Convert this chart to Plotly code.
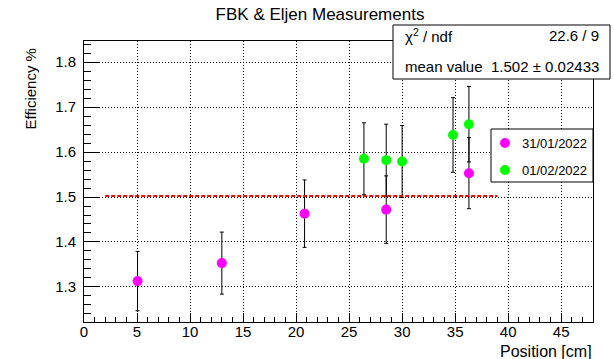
import plotly.graph_objects as go

# Efficiency vs. position for the two measurement days
labels = ["31/01/2022", "01/02/2022"]
colors = ["#ff00ff", "#00ff00"]

pos_jan = [5.05, 13.0, 20.8, 28.5, 36.3]
eff_jan = [1.313, 1.353, 1.463, 1.472, 1.553]
err_jan = [0.066, 0.069, 0.075, 0.075, 0.079]

pos_feb = [26.4, 28.5, 30.0, 34.8, 36.3]
eff_feb = [1.585, 1.582, 1.579, 1.638, 1.662]
err_feb = [0.080, 0.080, 0.080, 0.083, 0.084]

# Constant fit over all points
fit_range = [2.0, 39.0]
fit_mean = 1.502
fit_mean_err = 0.02433
chi2_text = "22.6 / 9"

FONT = "Liberation Sans, Arial, sans-serif"
W, H = 614, 359
L, R, T, B = 84, 21, 41, 37
PW, PH = W - L - R, H - T - B


def px(x):
    return (x - L) / PW


def py(y):
    return (H - B - y) / PH


fig = go.Figure()

for xs, ys, es, name, col in [
    (pos_jan, eff_jan, err_jan, labels[0], colors[0]),
    (pos_feb, eff_feb, err_feb, labels[1], colors[1]),
]:
    fig.add_trace(go.Scatter(
        x=xs, y=ys, mode="markers", name=name, showlegend=False,
        marker=dict(color=col, size=10, line=dict(width=0)),
        error_y=dict(type="data", array=es, visible=True,
                     color="black", thickness=1, width=2),
    ))

fig.add_trace(go.Scatter(
    x=fit_range, y=[fit_mean, fit_mean], mode="lines", showlegend=False,
    line=dict(color="#e01010", width=2, dash="4px,2px"),
))

axis_common = dict(
    showline=True, mirror=True, linecolor="black", linewidth=1,
    showgrid=True, gridcolor="black", gridwidth=1, griddash="1px,2px",
    zeroline=False, ticks="inside", tickcolor="black",
    tickfont=dict(family=FONT, size=15, color="black"),
)

fig.update_xaxes(
    range=[0, 48], dtick=5, tick0=0, ticklen=9,
    minor=dict(dtick=1, ticklen=5, ticks="inside", tickcolor="black", showgrid=False),
    ticklabelstandoff=-4,
    **axis_common,
)
fig.update_yaxes(
    range=[1.222, 1.847], dtick=0.1, tick0=1.2, ticklen=15,
    minor=dict(dtick=0.02, ticklen=7, ticks="inside", tickcolor="black", showgrid=False),
    ticklabelstandoff=4,
    **axis_common,
)

shapes = []
annotations = []

# Statistics box
shapes.append(dict(type="rect", xref="paper", yref="paper",
                   x0=px(393), x1=px(610), y0=py(79), y1=py(25),
                   line=dict(color="black", width=1), fillcolor="white", layer="above"))
stat_font = dict(family=FONT, size=15, color="black")
annotations += [
    dict(text="χ<sup>2</sup> / ndf", x=px(403), y=py(36), xanchor="left", yanchor="middle"),
    dict(text=chi2_text, x=px(601), y=py(36), xanchor="right", yanchor="middle"),
    dict(text="mean value", x=px(403), y=py(66), xanchor="left", yanchor="middle"),
    dict(text=f"{fit_mean:.3f} ± {fit_mean_err:.5f}", x=px(601), y=py(66),
         xanchor="right", yanchor="middle"),
]

# Legend box
shapes.append(dict(type="rect", xref="paper", yref="paper",
                   x0=px(491), x1=px(593), y0=py(182), y1=py(129),
                   line=dict(color="black", width=1), fillcolor="white", layer="above"))
for i, (name, col) in enumerate(zip(labels, colors)):
    yc = 143 + 27 * i
    shapes.append(dict(type="circle", xref="paper", yref="paper",
                       xsizemode="pixel", ysizemode="pixel",
                       xanchor=px(505), yanchor=py(yc),
                       x0=-5, x1=5, y0=-5, y1=5,
                       fillcolor=col, line=dict(width=0), layer="above"))
    annotations.append(dict(text=name, x=px(520), y=py(yc), xanchor="left", yanchor="middle",
                            font=dict(family=FONT, size=13, color="black")))

for a in annotations[:4]:
    a["font"] = stat_font
for a in annotations:
    a.update(xref="paper", yref="paper", showarrow=False)

# Axis titles placed at the axis ends
annotations.append(dict(text="Efficiency %", xref="paper", yref="paper",
                        x=px(30), y=py(47), xanchor="center", yanchor="top",
                        textangle=-90, showarrow=False,
                        font=dict(family=FONT, size=15, color="black")))
annotations.append(dict(text="Position [cm]", xref="paper", yref="paper",
                        x=px(594), y=py(351), xanchor="right", yanchor="middle",
                        showarrow=False,
                        font=dict(family=FONT, size=16, color="black")))

fig.update_layout(
    width=W, height=H,
    margin=dict(l=L, r=R, t=T, b=B),
    paper_bgcolor="white", plot_bgcolor="white",
    title=dict(text="FBK & Eljen Measurements", x=320 / W, xanchor="center",
               y=1 - 14 / H, yanchor="middle",
               font=dict(family=FONT, size=17, color="black")),
    shapes=shapes, annotations=annotations,
    showlegend=False,
)

fig.write_html("out.html")
